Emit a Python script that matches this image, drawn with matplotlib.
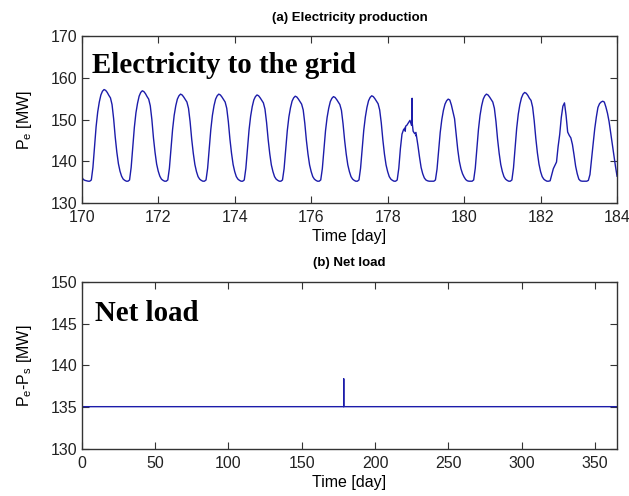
import numpy as np
import matplotlib
matplotlib.use('Agg')
import matplotlib.pyplot as plt

#---- Data -------------------------------------------------------------------#

# (a) hourly electricity production, one row per day (hour 0..23), MW
days = [170, 171, 172, 173, 174, 175, 176, 177, 178, 179, 180, 181, 182, 183]
prod_mw = [
    [136.2, 135.6, 135.4, 135.3, 135.2, 135.2, 135.5, 138.5, 143.5, 148.3, 151.8, 154.2,
     155.9, 156.8, 157.2, 157.0, 156.5, 155.8, 155.2, 153.6, 150.2, 145.8, 142.2, 139.4],
    [137.6, 136.4, 135.7, 135.4, 135.2, 135.2, 135.5, 138.5, 143.4, 148.1, 151.6, 153.9,
     155.6, 156.5, 156.9, 156.7, 156.2, 155.5, 154.9, 153.3, 150.0, 145.6, 142.1, 139.3],
    [137.6, 136.4, 135.7, 135.4, 135.2, 135.2, 135.5, 138.3, 143.1, 147.6, 151.0, 153.3,
     154.9, 155.7, 156.1, 155.9, 155.4, 154.8, 154.2, 152.7, 149.5, 145.3, 141.9, 139.2],
    [137.5, 136.3, 135.7, 135.4, 135.2, 135.2, 135.5, 138.3, 143.1, 147.6, 151.0, 153.3,
     154.9, 155.7, 156.1, 155.9, 155.4, 154.8, 154.2, 152.7, 149.5, 145.3, 141.9, 139.2],
    [137.5, 136.3, 135.7, 135.4, 135.2, 135.2, 135.5, 138.3, 143.0, 147.5, 150.8, 153.1,
     154.7, 155.5, 155.9, 155.7, 155.2, 154.6, 154.0, 152.5, 149.3, 145.2, 141.8, 139.1],
    [137.5, 136.3, 135.7, 135.4, 135.2, 135.2, 135.5, 138.2, 142.9, 147.3, 150.6, 152.8,
     154.4, 155.2, 155.6, 155.4, 154.9, 154.3, 153.7, 152.3, 149.1, 145.0, 141.7, 139.1],
    [137.5, 136.3, 135.7, 135.4, 135.2, 135.2, 135.5, 138.2, 142.9, 147.3, 150.5, 152.7,
     154.3, 155.1, 155.5, 155.3, 154.8, 154.2, 153.6, 152.2, 149.0, 145.0, 141.7, 139.1],
    [137.5, 136.3, 135.7, 135.4, 135.2, 135.2, 135.5, 138.3, 142.9, 147.4, 150.6, 152.9,
     154.5, 155.3, 155.7, 155.5, 155.0, 154.4, 153.8, 152.3, 149.2, 145.1, 141.7, 139.1],
    [137.5, 136.3, 135.7, 135.4, 135.2, 135.2, 135.5, 138.3, 143.0, 146.5, 147.6, 148.0,
     148.6, 149.2, 149.8, 148.6, 147.2, 146.6, 146.0, 143.8, 141.0, 138.5, 137.0, 136.0],
    [135.5, 135.3, 135.2, 135.2, 135.2, 135.2, 135.5, 138.1, 142.6, 146.9, 150.0, 152.2,
     153.7, 154.5, 154.9, 154.7, 153.5, 151.8, 150.2, 146.5, 142.8, 140.0, 138.2, 137.0],
    [136.2, 135.6, 135.3, 135.2, 135.2, 135.2, 135.5, 138.3, 143.1, 147.6, 151.0, 153.3,
     154.9, 155.7, 156.1, 155.9, 155.4, 154.8, 154.2, 152.7, 149.5, 145.3, 141.9, 139.2],
    [137.5, 136.3, 135.7, 135.4, 135.2, 135.2, 135.5, 138.4, 143.2, 147.9, 151.3, 153.6,
     155.2, 156.1, 156.5, 156.3, 155.8, 155.1, 154.6, 153.0, 149.7, 145.5, 142.0, 139.3],
    [137.5, 136.3, 135.7, 135.4, 135.2, 135.2, 135.3, 136.8, 138.2, 139.0, 139.8, 143.5,
     146.4, 150.5, 153.2, 154.0, 151.0, 147.0, 146.2, 145.6, 144.0, 141.5, 138.8, 137.0],
    [135.7, 135.3, 135.2, 135.2, 135.2, 135.2, 135.4, 136.8, 140.6, 144.2, 147.8, 150.6,
     152.9, 153.8, 154.2, 154.4, 154.2, 153.0, 151.5, 149.5, 146.8, 144.0, 141.3, 138.8],
]
end_t, end_mw = 184.0, 136.4

# short disturbances on day 178 (sub-hourly samples)
extra_t  = [178.46, 178.47, 178.635, 178.64, 178.645, 178.74, 178.75]
extra_mw = [147.2, 148.4, 149.9, 155.1, 149.0, 146.9, 146.3]

# (b) net load over the year, MW
net_t  = [0, 178.60, 178.62, 178.64, 365]
net_mw = [135.05, 135.05, 138.4, 135.05, 135.05]

#---- Build time axis --------------------------------------------------------#

t = np.concatenate([d + np.arange(24) / 24.0 for d in days] + [[end_t], extra_t])
p = np.concatenate([np.array(r) for r in prod_mw] + [[end_mw], extra_mw])
order = np.argsort(t)
t, p = t[order], p[order]

#---- Plotting ---------------------------------------------------------------#

plt.rcParams['font.family'] = ['Liberation Sans', 'DejaVu Sans']
plt.rcParams['mathtext.default'] = 'regular'

line_col = '#1c1caa'

fig = plt.figure(figsize=(6.29, 4.96), dpi=100)
ax1 = fig.add_axes([0.130, 0.591, 0.851, 0.336])
ax2 = fig.add_axes([0.130, 0.095, 0.851, 0.337])

ax1.plot(t, p, color=line_col, lw=1.0)
ax1.set_xlim(170, 184)
ax1.set_ylim(130, 170)
ax1.set_xticks(range(170, 185, 2))
ax1.set_yticks(range(130, 171, 10))
ax1.set_xlabel('Time [day]', fontsize=11.5, labelpad=3)
ax1.set_ylabel('P$_e$ [MW]', fontsize=11.5, labelpad=12)
ax1.set_title('(a) Electricity production', fontsize=9.5, fontweight='bold', pad=11)
ax1.text(0.019, 0.778, 'Electricity to the grid', transform=ax1.transAxes,
         family='Liberation Serif', fontweight='bold', fontsize=20.8, va='baseline')

ax2.plot(net_t, net_mw, color=line_col, lw=1.0)
ax2.set_xlim(0, 365)
ax2.set_ylim(130, 150)
ax2.set_xticks(range(0, 351, 50))
ax2.set_yticks(range(130, 151, 5))
ax2.set_xlabel('Time [day]', fontsize=11.5, labelpad=3)
ax2.set_ylabel('P$_e$-P$_s$ [MW]', fontsize=11.5, labelpad=12)
ax2.set_title('(b) Net load', fontsize=9.5, fontweight='bold', pad=11)
ax2.text(0.024, 0.766, 'Net load', transform=ax2.transAxes,
         family='Liberation Serif', fontweight='bold', fontsize=20.8, va='baseline')

for ax in (ax1, ax2):
    ax.tick_params(direction='in', top=True, right=True, length=5, width=0.8,
                   labelsize=11.5, colors='#333333', labelcolor='#222222')
    ax.tick_params(axis='x', pad=5)
    ax.tick_params(axis='y', pad=3)
    for s in ax.spines.values():
        s.set_color('#333333')
        s.set_linewidth(1.0)

plt.savefig('out.png', dpi=100)
